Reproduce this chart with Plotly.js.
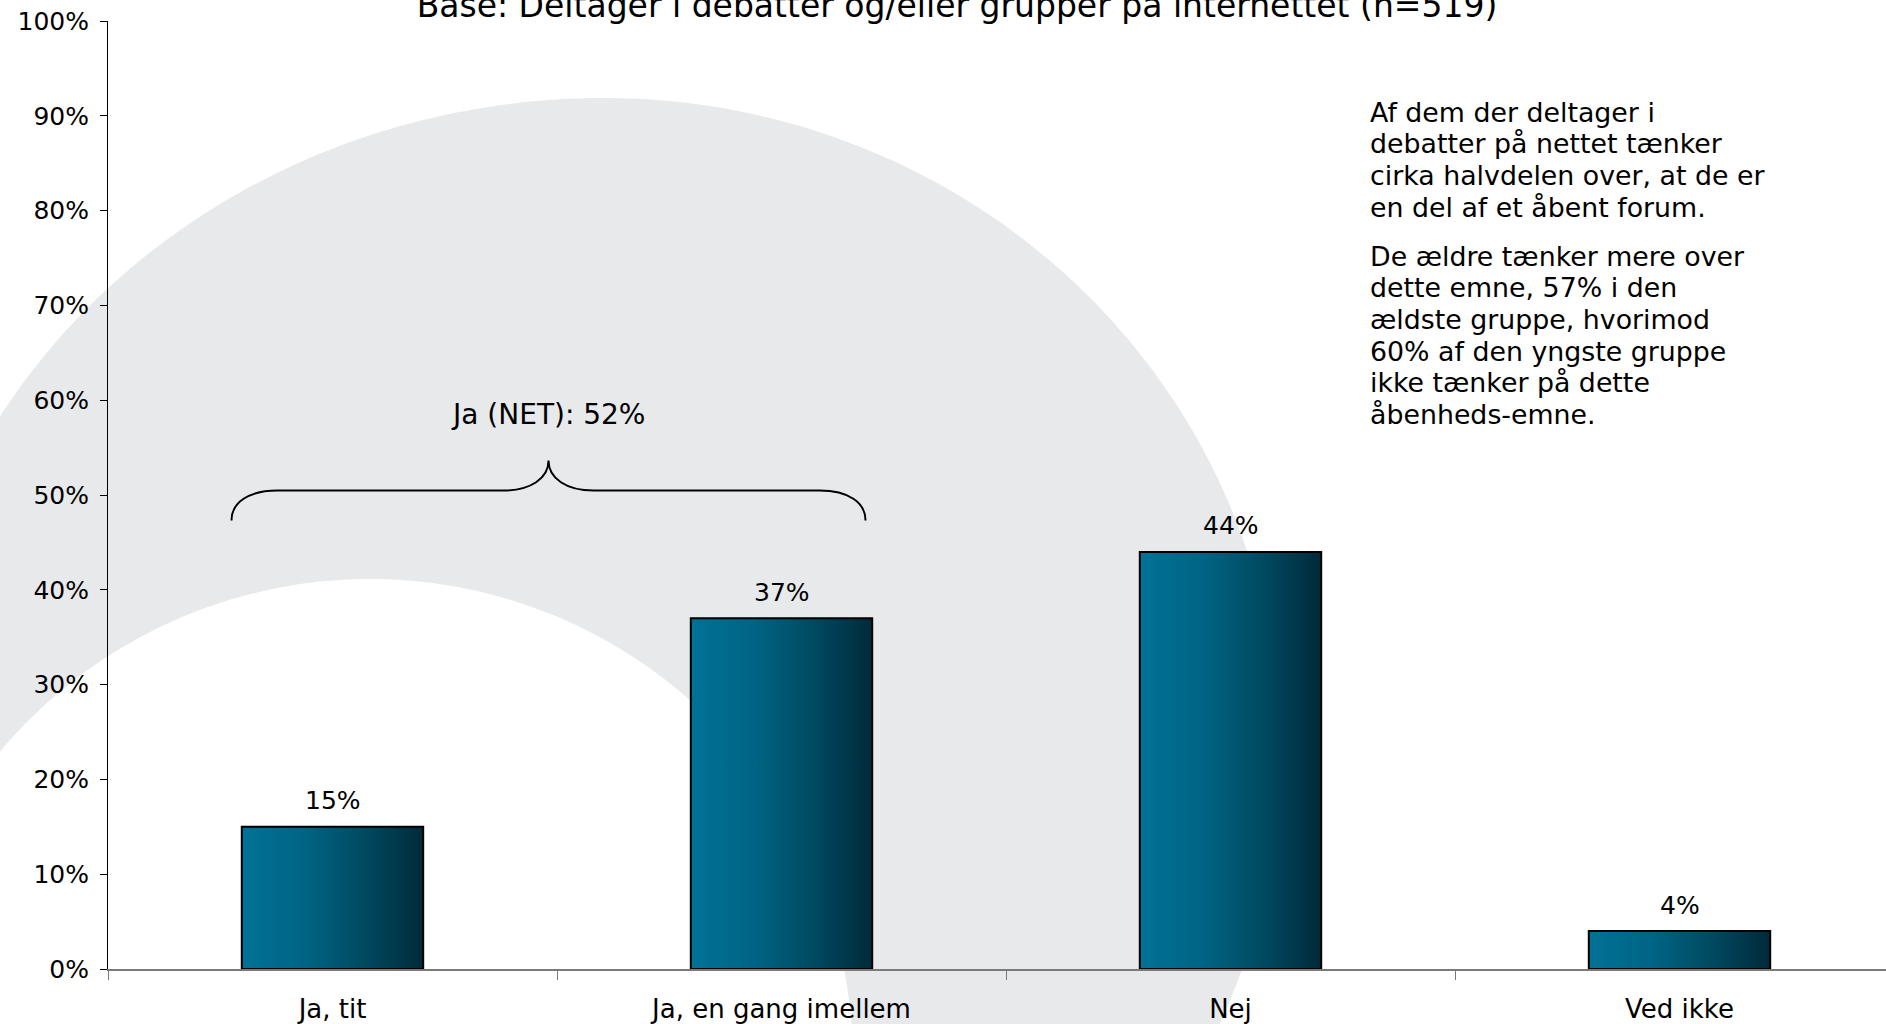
<!DOCTYPE html>
<html>
<head>
<meta charset="utf-8">
<script src="https://cdn.plot.ly/plotly-3.0.1.min.js"></script>
<style>
html, body { margin: 0; padding: 0; background: #ffffff; }
#chart { width: 1886px; height: 1024px; }
</style>
</head>
<body>
<div id="chart"></div>
<script>
// ---------------- DATA ----------------
const categories = ["Ja, tit", "Ja, en gang imellem", "Nej", "Ved ikke"];
const values = [15, 37, 44, 4];
const yTickValues = [0, 10, 20, 30, 40, 50, 60, 70, 80, 90, 100];
const yTickLabels = ["0%", "10%", "20%", "30%", "40%", "50%", "60%", "70%", "80%", "90%", "100%"];
const titleText = "Base: Deltager i debatter og/eller grupper på internettet (n=519)";
const netLabel = "Ja (NET): 52%";
const noteParagraph1 = [
  "Af dem der deltager i",
  "debatter på nettet tænker",
  "cirka halvdelen over, at de er",
  "en del af et åbent forum."
];
const noteParagraph2 = [
  "De ældre tænker mere over",
  "dette emne, 57% i den",
  "ældste gruppe, hvorimod",
  "60% af den yngste gruppe",
  "ikke tænker på dette",
  "åbenheds-emne."
];

// ---------------- LAYOUT CONSTANTS ----------------
const W = 1886, H = 1024;
const ML = 108, MR = 0, MT = 21, MB = 55;
const PW = W - ML - MR, PH = H - MT - MB;
const CAT_PX = 449;
const FONT = "DejaVu Sans, Verdana, sans-serif";
const px2paperX = px => (px - ML) / PW;
const py2paperY = py => (H - MB - py) / PH;

// background swoosh geometry (decoration, in page pixels)
const OUTER = { cx: 604, cy: 753, aRight: 676, aLeft: 704, b: 655 };
const INNER = { cx: 370, cy: 1062, r: 483 };

function rel(x, y) { return (x - ML).toFixed(1) + "," + (MT - y).toFixed(1); }
function buildSwoosh() {
  const pts = [];
  const t0 = -0.49, t1 = Math.PI, N = 180;
  for (let k = 0; k <= N; k++) {
    const t = t0 + (t1 - t0) * k / N;
    const c = Math.cos(t);
    const a = c >= 0 ? OUTER.aRight : OUTER.aLeft;
    pts.push([OUTER.cx + a * c, OUTER.cy - OUTER.b * Math.sin(t)]);
  }
  const xl = pts[pts.length - 1][0];
  const phi0 = Math.acos(Math.max(-1, (xl - INNER.cx) / INNER.r));
  const M = 140;
  for (let k = 0; k <= M; k++) {
    const p = phi0 - (phi0 + 0.02) * k / M;
    pts.push([INNER.cx + INNER.r * Math.cos(p), INNER.cy - INNER.r * Math.sin(p)]);
  }
  return "M" + pts.map(p => rel(p[0], p[1])).join(" L") + " Z";
}
const swooshPath = buildSwoosh();

const bracePath = "M-317,-30 C-317,-12 -300,0 -271,0 L-45,0 C-18,0 0,12 0,30 C0,12 18,0 45,0 L271,0 C300,0 317,-12 317,-30";

// ---------------- TRACE ----------------
const trace = {
  type: "bar",
  x: categories,
  y: values,
  width: 0.404,
  marker: { color: "rgb(0,85,112)", line: { color: "#000000", width: 2 } },
  hoverinfo: "none"
};

// ---------------- ANNOTATIONS ----------------
const annotations = [];
categories.forEach((c, i) => {
  annotations.push({
    x: c, y: values[i], xref: "x", yref: "y",
    text: values[i] + "%", showarrow: false,
    xanchor: "center", yanchor: "middle", yshift: 26,
    font: { family: FONT, size: 25, color: "#000" }
  });
});
annotations.push({
  x: px2paperX(548), y: py2paperY(414), xref: "paper", yref: "paper",
  text: netLabel, showarrow: false, xanchor: "center", yanchor: "middle",
  font: { family: FONT, size: 28, color: "#000" }
});
const NOTE_X = 1368, LINE_STEP = 31.7, P1_BASE = 121, P2_BASE = 265;
const NOTE_SIZE = 26.8;
noteParagraph1.forEach((t, i) => {
  annotations.push({
    x: px2paperX(NOTE_X), y: py2paperY(P1_BASE + i * LINE_STEP - 9), xref: "paper", yref: "paper",
    text: t, showarrow: false, xanchor: "left", yanchor: "middle",
    font: { family: FONT, size: NOTE_SIZE, color: "#000" }
  });
});
noteParagraph2.forEach((t, i) => {
  annotations.push({
    x: px2paperX(NOTE_X), y: py2paperY(P2_BASE + i * LINE_STEP - 9), xref: "paper", yref: "paper",
    text: t, showarrow: false, xanchor: "left", yanchor: "middle",
    font: { family: FONT, size: NOTE_SIZE, color: "#000" }
  });
});

// ---------------- LAYOUT ----------------
const layout = {
  width: W, height: H,
  margin: { l: ML, r: MR, t: MT, b: MB, pad: 0 },
  paper_bgcolor: "#ffffff",
  plot_bgcolor: "rgba(0,0,0,0)",
  showlegend: false,
  font: { family: FONT, color: "#000" },
  title: {
    text: titleText,
    xref: "container", yref: "container",
    x: 957 / W, xanchor: "center",
    y: 1 - 17 / H, yanchor: "bottom",
    font: { family: FONT, size: 33, color: "#000" }
  },
  xaxis: {
    type: "category",
    categoryorder: "array", categoryarray: categories,
    range: [-0.5, -0.5 + PW / CAT_PX],
    showline: true, linecolor: "#7a7a7a", linewidth: 1.5,
    ticks: "outside", tickson: "boundaries", ticklen: 9, tickcolor: "#7a7a7a", tickwidth: 1,
    ticklabelstandoff: 16,
    tickfont: { family: FONT, size: 26, color: "#000" },
    showgrid: false, zeroline: false, fixedrange: true
  },
  yaxis: {
    range: [0, 100],
    tickmode: "array", tickvals: yTickValues, ticktext: yTickLabels,
    showline: true, linecolor: "#000", linewidth: 1,
    ticks: "outside", ticklen: 7, tickcolor: "#000", tickwidth: 1,
    ticklabelstandoff: 6,
    tickfont: { family: FONT, size: 25, color: "#000" },
    showgrid: false, zeroline: false, fixedrange: true
  },
  shapes: [
    {
      type: "path", layer: "below",
      xref: "paper", yref: "paper",
      xsizemode: "pixel", ysizemode: "pixel",
      xanchor: 0, yanchor: 1,
      path: swooshPath,
      fillcolor: "#e8e9eb", line: { width: 0 }
    },
    {
      type: "path", layer: "above",
      xref: "paper", yref: "paper",
      xsizemode: "pixel", ysizemode: "pixel",
      xanchor: px2paperX(548.5), yanchor: py2paperY(490.5),
      path: bracePath,
      line: { color: "#000", width: 2 }
    }
  ],
  annotations: annotations,
  bargap: 0.6
};

const gd = document.getElementById("chart");
Plotly.newPlot(gd, [trace], layout, { displayModeBar: false, staticPlot: true }).then(() => {
  const ns = "http://www.w3.org/2000/svg";
  const svg = gd.querySelector(".main-svg");
  let defs = svg.querySelector("defs");
  if (!defs) { defs = document.createElementNS(ns, "defs"); svg.insertBefore(defs, svg.firstChild); }
  const grad = document.createElementNS(ns, "linearGradient");
  grad.setAttribute("id", "barGrad");
  grad.setAttribute("x1", "0"); grad.setAttribute("y1", "0");
  grad.setAttribute("x2", "1"); grad.setAttribute("y2", "0");
  [[0, "rgb(0,114,150)"], [0.35, "rgb(0,100,132)"], [0.65, "rgb(0,76,99)"], [1, "rgb(0,42,58)"]].forEach(s => {
    const st = document.createElementNS(ns, "stop");
    st.setAttribute("offset", s[0]);
    st.setAttribute("stop-color", s[1]);
    grad.appendChild(st);
  });
  defs.appendChild(grad);
  gd.querySelectorAll(".barlayer .point path").forEach(p => { p.style.fill = "url(#barGrad)"; });
});
</script>
</body>
</html>
